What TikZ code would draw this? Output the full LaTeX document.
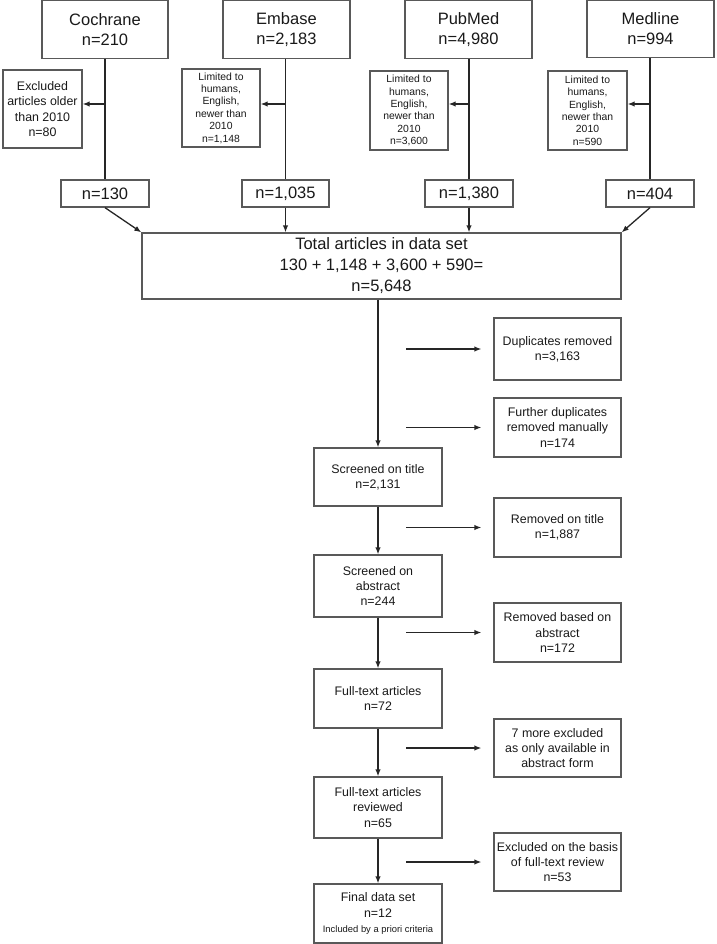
\documentclass[tikz,border=0pt]{standalone}
\usepackage{fontspec}
\setmainfont{Liberation Sans}
\usetikzlibrary{arrows.meta}
\begin{document}
\begin{tikzpicture}[x=1pt,y=-1pt,>={Latex[length=7pt,width=5.5pt]},line width=1.3pt,
  box/.style={draw=black!65,align=center,inner sep=1pt,text=black!90},
  sz/.style 2 args={minimum width=#1pt,minimum height=#2pt},
  big/.style={box,font=\fontsize{16.5}{20}\selectfont},
  tiny/.style={box,font=\fontsize{10.4}{12.4}\selectfont},
  mid/.style={box,font=\fontsize{12.4}{15.2}\selectfont},
  flow/.style={->,black!85}]
  \useasboundingbox (0,0) rectangle (716,944);

  \node[big,sz={126}{58}] (coch) at (105,29.5) {Cochrane\\n=210};
  \node[big,sz={127}{58}] (emb) at (286.5,29.5) {Embase\\n=2,183};
  \node[big,sz={127}{58}] (pub) at (468.5,29.5) {PubMed\\n=4,980};
  \node[big,sz={127}{57}] (med) at (650.5,29) {Medline\\n=994};

  \node[mid,sz={79}{78}] (excl) at (42.5,109) {Excluded\\articles older\\than 2010\\n=80};
  \node[tiny,sz={78}{78}] (lemb) at (221,108) {Limited to\\humans,\\English,\\newer than\\2010\\n=1,148};
  \node[tiny,sz={78}{79}] (lpub) at (409,110.5) {Limited to\\humans,\\English,\\newer than\\2010\\n=3,600};
  \node[tiny,sz={79}{79}] (lmed) at (587.5,110.5) {Limited to\\humans,\\English,\\newer than\\2010\\n=590};

  \node[big,sz={88}{27}] (c130) at (105,193.5) {n=130};
  \node[big,sz={87}{27}] (c1035) at (285.5,193.5) {n=1,035};
  \node[big,sz={88}{27}] (c1380) at (469,193.5) {n=1,380};
  \node[big,sz={88}{27}] (c404) at (650,193.5) {n=404};

  \node[big,font=\fontsize{16.5}{21}\selectfont,sz={479}{66}] (total) at (381.5,266)
    {Total articles in data set\\130 + 1,148 + 3,600 + 590=\\n=5,648};

  \node[mid,sz={128}{58}] (tit) at (378,477) {Screened on title\\n=2,131};
  \node[mid,sz={128}{62}] (sabs) at (378,586) {Screened on\\abstract\\n=244};
  \node[mid,sz={128}{59}] (ftxt) at (378,698.5) {Full-text articles\\n=72};
  \node[mid,sz={128}{61}] (frev) at (378,807.5) {Full-text articles\\reviewed\\n=65};
  \node[mid,sz={128}{59}] (fin) at (378,913.5)
    {Final data set\\n=12\\{\fontsize{9.4}{11}\selectfont Included by a priori criteria}};

  \node[mid,sz={127}{62}] (dup) at (557.5,349) {Duplicates removed\\n=3,163};
  \node[mid,sz={127}{59}] (fdup) at (557.5,427.5) {Further duplicates\\removed manually\\n=174};
  \node[mid,sz={127}{59}] (rtit) at (557.5,527.5) {Removed on title\\n=1,887};
  \node[mid,sz={127}{59}] (rabs) at (557.5,632.5) {Removed based on\\abstract\\n=172};
  \node[mid,sz={127}{58}] (more) at (557.5,748) {7 more excluded\\as only available in\\abstract form};
  \node[mid,sz={127}{58}] (exft) at (557.5,862) {Excluded on the basis\\of full-text review\\n=53};

  \coordinate (cut) at (0,104);
  \foreach \src/\side/\cnt in {coch/excl/c130,emb/lemb/c1035,pub/lpub/c1380,med/lmed/c404}{
    \draw[black!85] (\cnt.north |- \src.south) -- (\cnt.north);
    \draw[flow] (\cnt.north |- cut) -- (\side.east |- cut);
  }

  \draw[flow] (c130.south) -- (total.north west);
  \draw[flow] (c1035.south) -- (c1035.south |- total.north);
  \draw[flow] (c1380.south) -- (c1380.south |- total.north);
  \draw[flow] (c404.south) -- (total.north east);

  \draw[flow] (tit.north |- total.south) -- (tit.north);
  \foreach \a/\b in {tit/sabs,sabs/ftxt,ftxt/frev,frev/fin}
    \draw[flow] (\a) -- (\b);

  \foreach \r in {dup,fdup,rtit,rabs,more,exft}
    \draw[flow] ([xshift=-87pt]\r.west) -- ([xshift=-12pt]\r.west);
\end{tikzpicture}
\end{document}
